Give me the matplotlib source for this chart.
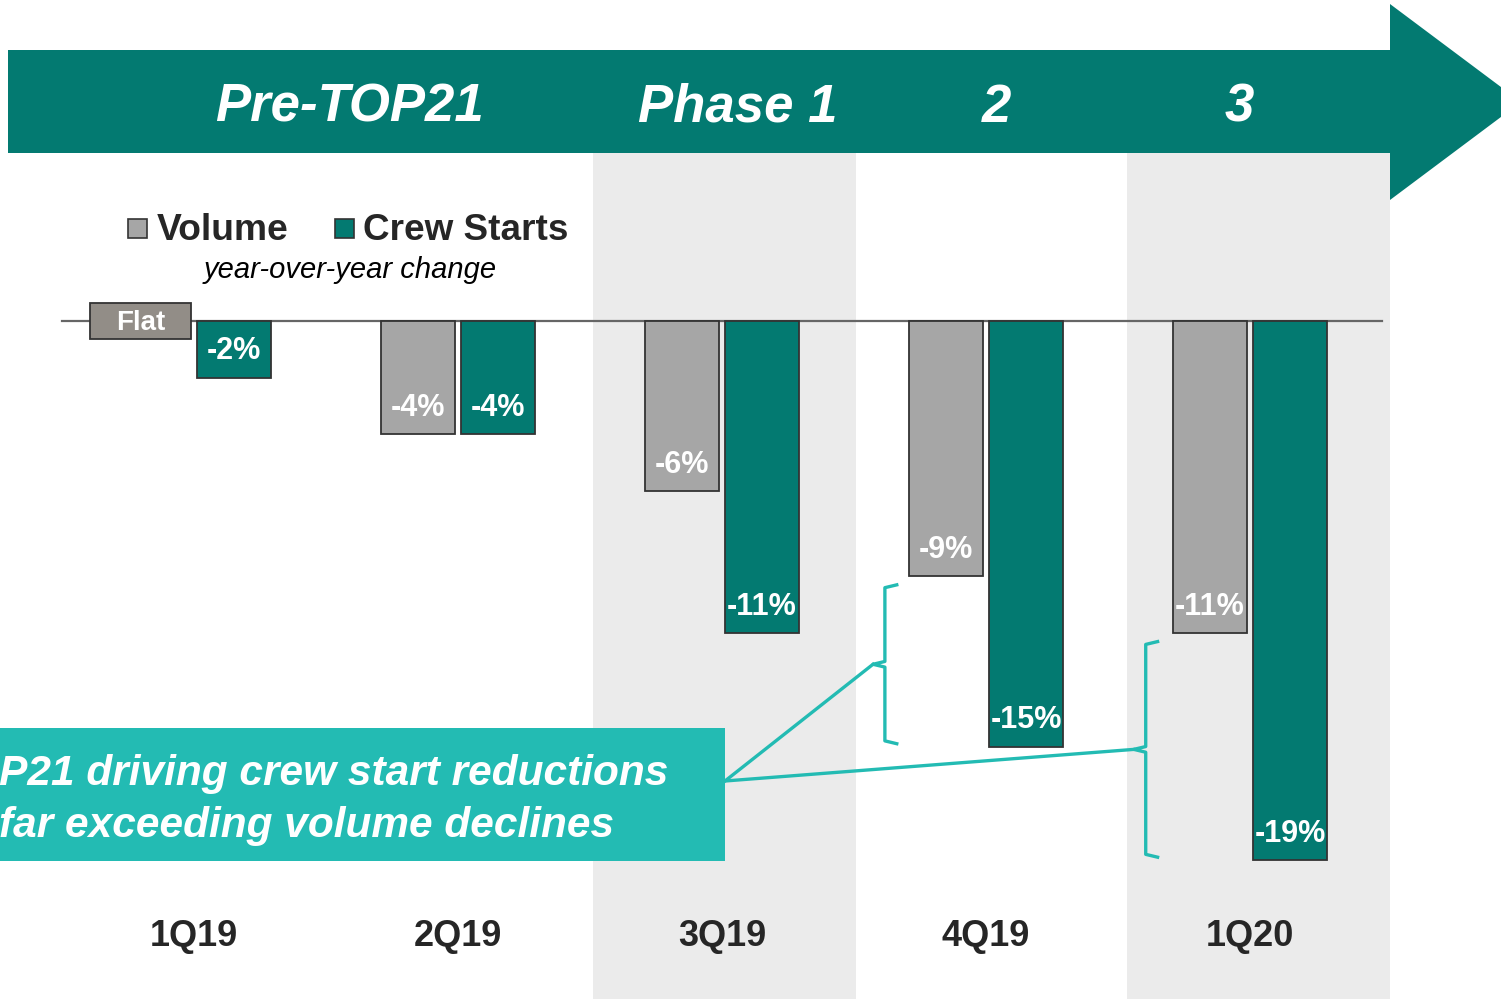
import matplotlib
matplotlib.use('Agg')
import matplotlib.pyplot as plt
from matplotlib.patches import Polygon, Rectangle

plt.rcParams['font.family'] = ['Liberation Sans', 'DejaVu Sans']

quarters = ['1Q19', '2Q19', '3Q19', '4Q19', '1Q20']
volume = [0, -4, -6, -9, -11]
crew = [-2, -4, -11, -15, -19]
volume_labels = ['Flat', '-4%', '-6%', '-9%', '-11%']
crew_labels = ['-2%', '-4%', '-11%', '-15%', '-19%']
phases = ['Pre-TOP21', 'Phase 1', '2', '3']
phase_x = [0.59, 2.06, 3.04, 3.96]
shaded_spans = [(1.511, 2.508), (3.534, 4.53)]
bracket_quarters = [3, 4]

teal = '#037a71'
light_teal = '#23bbb3'
grey = '#a6a6a6'
flat_grey = '#928d87'
edge = '#333333'
txt = '#262626'

W, H = 1501, 999
fig = plt.figure(figsize=(W / 100, H / 100), dpi=100)

# main axes: category index on x, percent on y
ax = fig.add_axes([0, 0, 1, 1])
x0, step = 194, 264.0
y0, ppu = 321, 28.37
ax.set_xlim(-x0 / step, (W - x0) / step)
ax.set_ylim(-(H - y0) / ppu, y0 / ppu)
ax.axis('off')

band_top = (H - 153) / H
for a, b in shaded_spans:
    ax.axvspan(a, b, ymin=0, ymax=band_top, color='#ebebeb', lw=0, zorder=0)

ax.plot([-0.5, 4.5], [0, 0], color='#666666', lw=1.6, zorder=1)

bw = 0.28
off = 0.1515
for i, q in enumerate(quarters):
    v, c = volume[i], crew[i]
    if v == 0:
        fw = 0.383
        ax.bar(i - off + bw / 2 - fw / 2, 1.3, width=fw, bottom=-0.65, color=flat_grey,
               edgecolor=edge, lw=1.3, zorder=3)
        ax.text(i - off + bw / 2 - fw / 2, -0.08, volume_labels[i], ha='center', va='center',
                color='white', fontsize=20, fontweight='bold', zorder=4)
    else:
        ax.bar(i - off, v, width=bw, color=grey, edgecolor=edge, lw=1.3, zorder=2)
        ax.text(i - off, v + 0.93, volume_labels[i], ha='center', va='center',
                color='white', fontsize=22, fontweight='bold', zorder=4)
    ax.bar(i + off, c, width=bw, color=teal, edgecolor=edge, lw=1.3, zorder=2)
    ax.text(i + off, c + 0.93, crew_labels[i], ha='center', va='center',
            color='white', fontsize=22, fontweight='bold', zorder=4)
    ax.text(i, -(936 - y0) / ppu, q, ha='center', va='center', color=txt,
            fontsize=26, fontweight='bold')

# brackets between volume and crew declines
anchor = ((725 - x0) / step, -(781 - y0) / ppu)
for i in bracket_quarters:
    bx = i - 0.383 + (0.0 if i == 3 else -0.012)
    top, bot = volume[i] - 0.3, crew[i] + 0.1
    mid = (top + bot) / 2
    t = 0.045
    ax.plot([bx + t, bx, bx, bx - t, bx, bx, bx + t],
            [top, top - 0.1, mid + 0.1, mid, mid - 0.1, bot + 0.1, bot],
            color=light_teal, lw=2.4, solid_joinstyle='round', zorder=5)
    ax.plot([anchor[0], bx - t], [anchor[1], mid], color=light_teal, lw=2.4, zorder=5)

# overlay in pixel units for banner, legend and callout
ov = fig.add_axes([0, 0, 1, 1], facecolor='none')
ov.set_xlim(0, W)
ov.set_ylim(H, 0)
ov.axis('off')

ov.add_patch(Polygon([(8, 50), (1390, 50), (1390, 4), (1521, 102), (1390, 200),
                      (1390, 153), (8, 153)], closed=True, color=teal, lw=0))
for p, px in zip(phases, phase_x):
    ov.text(x0 + px * step, 108, p, ha='center', va='center', color='white',
            fontsize=38, fontweight='bold', fontstyle='italic')

ov.add_patch(Rectangle((128, 219), 19, 19, fc=grey, ec=edge, lw=1.2))
ov.text(157, 231, 'Volume', ha='left', va='center', color=txt, fontsize=26.8, fontweight='bold')
ov.add_patch(Rectangle((335, 219), 19, 19, fc=teal, ec=edge, lw=1.2))
ov.text(363, 231, 'Crew Starts', ha='left', va='center', color=txt, fontsize=26.6, fontweight='bold')
ov.text(350, 270, 'year-over-year change', ha='center', va='center', color='black',
        fontsize=21, fontstyle='italic')

ov.add_patch(Rectangle((0, 728), 725, 133, color=light_teal, lw=0))
ov.text(305, 774, 'TOP21 driving crew start reductions', ha='center', va='center',
        color='white', fontsize=30.5, fontweight='bold', fontstyle='italic')
ov.text(307, 826, 'far exceeding volume declines', ha='center', va='center',
        color='white', fontsize=30.5, fontweight='bold', fontstyle='italic')

fig.savefig('out.png', dpi=100)
